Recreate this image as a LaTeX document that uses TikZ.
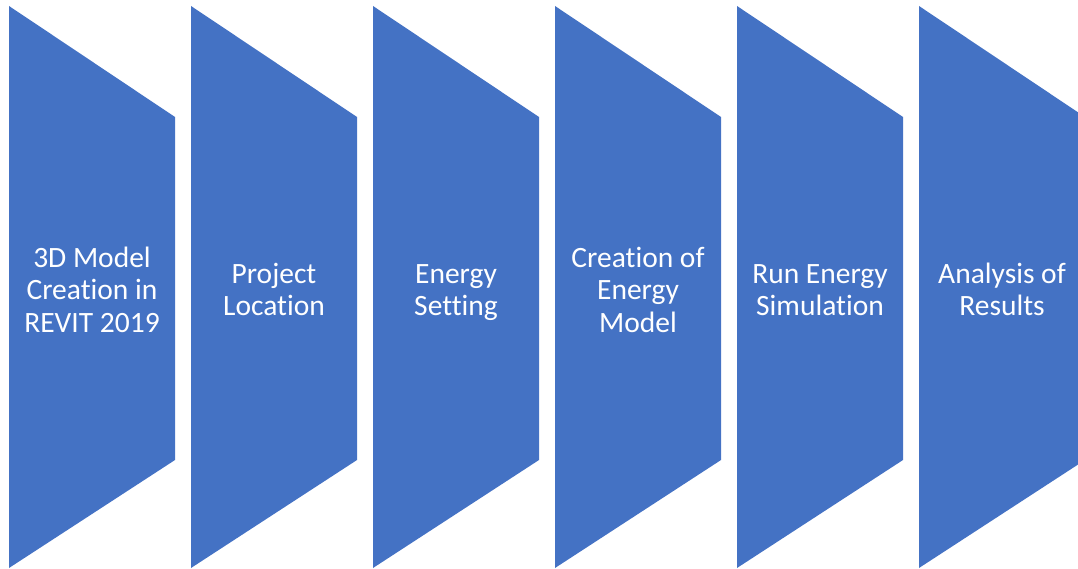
\documentclass[tikz,border=0pt]{standalone}
\usepackage{fontspec}
\setmainfont[Ligatures=CommonOff]{Carlito}
\definecolor{stepblue}{HTML}{4472C4}
\tikzset{
  chevron/.style={fill=stepblue, draw=none},
  steptext/.style={text=white, align=center, font=\fontsize{29.5}{32.5}\selectfont, inner sep=0pt}
}
\begin{document}
\begin{tikzpicture}[x=1pt,y=-1pt]
  \useasboundingbox (0,0) rectangle (1078,569);
  \clip (0,0) rectangle (1078,569);
  \foreach \i/\txt in {0/{\strut 3D Model\\\strut Creation in\\\strut REVIT 2019},
                       1/{\strut Project\\\strut Location},
                       2/{\strut Energy\\\strut Setting},
                       3/{\strut Creation of\\\strut Energy\\\strut Model},
                       4/{\strut Run Energy\\\strut Simulation},
                       5/{\strut Analysis of\\\strut Results}} {
    \pgfmathsetmacro{\xl}{9+182*\i}
    \fill[chevron] (\xl,6) -- (\xl+166,117) -- (\xl+166,460) -- (\xl,568) -- cycle;
    \node[steptext] (step\i) at (\xl+83,293) {\txt};
  }
\end{tikzpicture}
\end{document}
